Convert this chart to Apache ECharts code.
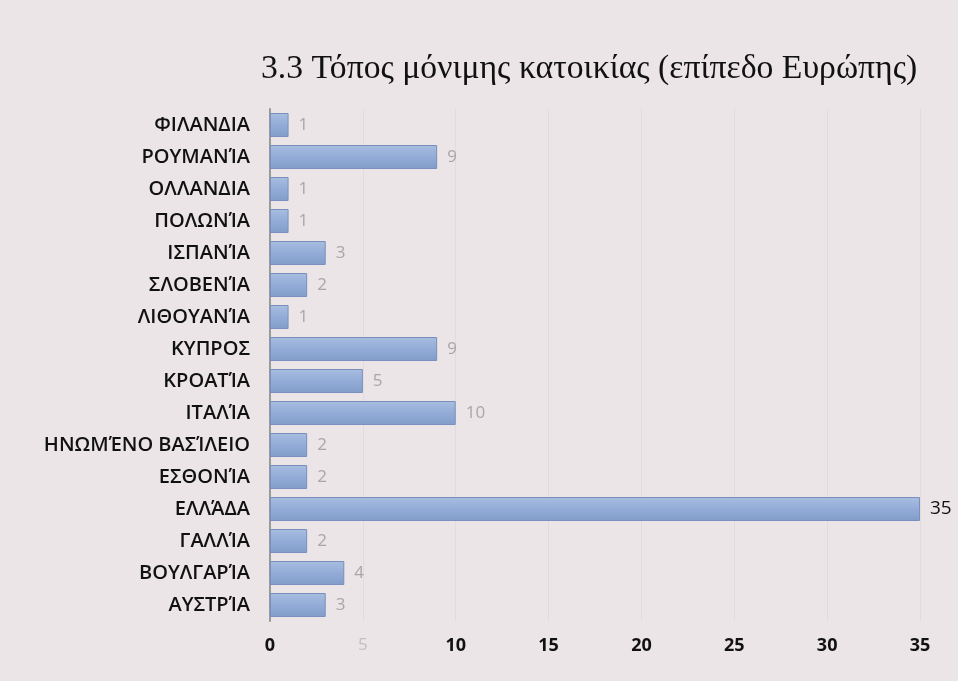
<!DOCTYPE html>
<html>
<head>
<meta charset="utf-8">
<script src="https://cdn.jsdelivr.net/npm/echarts@6/dist/echarts.min.js"></script>
<style>
  html, body { margin: 0; padding: 0; background: #ece5e7; }
  #chart { width: 958px; height: 681px; }
</style>
</head>
<body>
<div id="chart"></div>
<script>
// countries, top to bottom as in the picture
const countries = [
  'ΦΙΛΑΝΔΙΑ', 'ΡΟΥΜΑΝΊΑ', 'ΟΛΛΑΝΔΙΑ', 'ΠΟΛΩΝΊΑ', 'ΙΣΠΑΝΊΑ', 'ΣΛΟΒΕΝΊΑ',
  'ΛΙΘΟΥΑΝΊΑ', 'ΚΥΠΡΟΣ', 'ΚΡΟΑΤΊΑ', 'ΙΤΑΛΊΑ', 'ΗΝΩΜΈΝΟ ΒΑΣΊΛΕΙΟ',
  'ΕΣΘΟΝΊΑ', 'ΕΛΛΆΔΑ', 'ΓΑΛΛΊΑ', 'ΒΟΥΛΓΑΡΊΑ', 'ΑΥΣΤΡΊΑ'
];
const counts = [1, 9, 1, 1, 3, 2, 1, 9, 5, 10, 2, 2, 35, 2, 4, 3];
const xTicks = [0, 5, 10, 15, 20, 25, 30, 35];

const myChart = echarts.init(document.getElementById('chart'));

myChart.setOption({
  backgroundColor: '#ece5e7',
  title: {
    text: '3.3 Τόπος μόνιμης κατοικίας (επίπεδο Ευρώπης)',
    left: 256,
    top: 47,
    textStyle: {
      fontFamily: 'Liberation Serif',
      fontWeight: 'normal',
      fontSize: 33.7,
      color: '#111'
    }
  },
  grid: {
    left: 270,
    right: 38,
    top: 109,
    bottom: 60,
    containLabel: false
  },
  xAxis: {
    type: 'value',
    min: xTicks[0],
    max: xTicks[xTicks.length - 1],
    interval: 5,
    axisLine: { show: false },
    axisTick: { show: false },
    splitLine: {
      show: true,
      lineStyle: { color: 'rgba(220,212,216,0.6)', width: 1 }
    },
    axisLabel: {
      margin: 16,
      formatter: (v) => (v === 5 ? '{f|5}' : '{b|' + v + '}'),
      rich: {
        f: { color: '#c4bfc1', fontSize: 17, fontFamily: 'Open Sans' },
        b: { color: '#111', fontSize: 18, fontWeight: 'bold', fontFamily: 'Open Sans' }
      }
    }
  },
  yAxis: {
    type: 'category',
    data: countries,
    inverse: true,
    axisLine: { show: true, lineStyle: { color: '#9a9a9a', width: 2 } },
    axisTick: { show: false },
    axisLabel: {
      margin: 20,
      fontFamily: 'Open Sans',
      fontSize: 20,
      fontWeight: 600,
      color: '#111'
    }
  },
  series: [
    {
      type: 'bar',
      data: counts,
      barWidth: 24,
      itemStyle: {
        color: new echarts.graphic.LinearGradient(0, 0, 0, 1, [
          { offset: 0, color: '#a9bde0' },
          { offset: 0.5, color: '#93acd7' },
          { offset: 1, color: '#829cc9' }
        ]),
        borderColor: '#7790bd',
        borderWidth: 1
      },
      label: {
        show: true,
        position: 'right',
        distance: 10,
        fontFamily: 'Open Sans',
        fontSize: 17,
        color: '#aaa5a7',
        formatter: (p) => (p.value === 35 ? '{big|35}' : String(p.value)),
        rich: {
          big: { color: '#111', fontSize: 19, fontFamily: 'Open Sans' }
        }
      }
    }
  ]
});
</script>
</body>
</html>
